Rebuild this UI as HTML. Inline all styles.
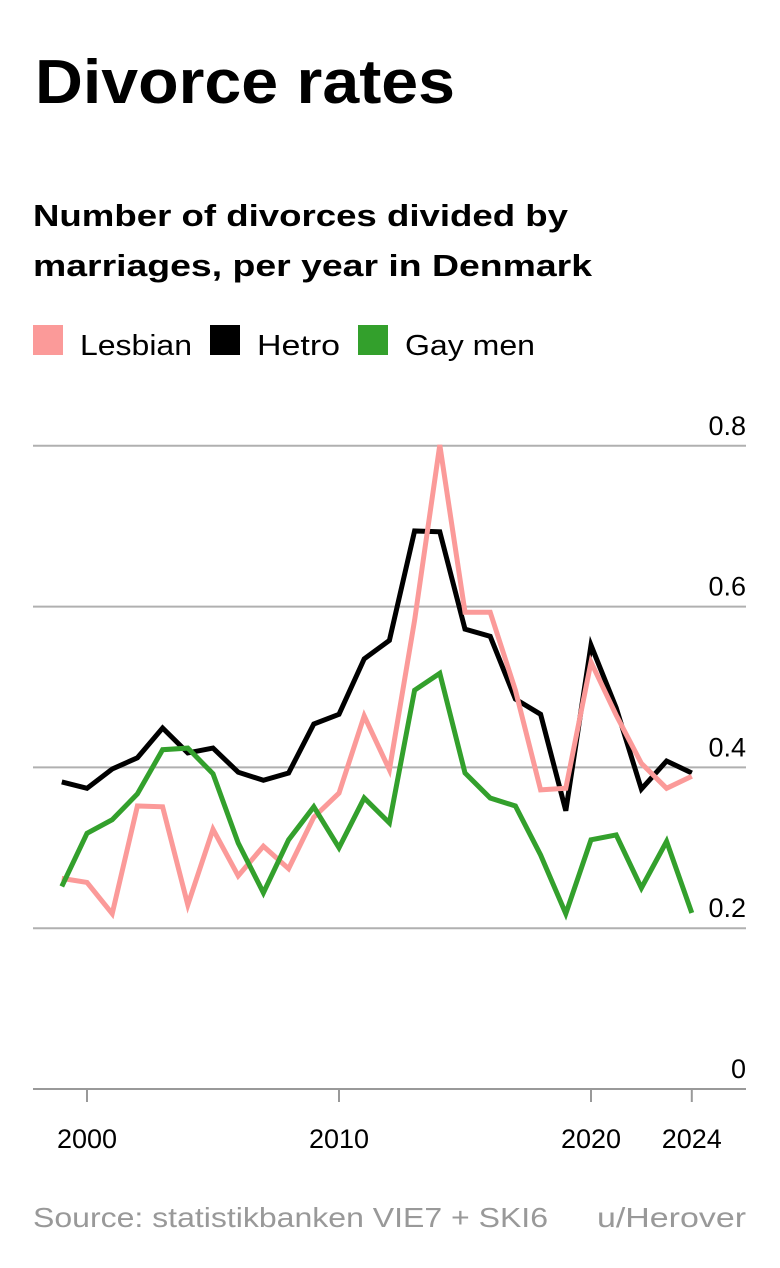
<!DOCTYPE html>
<html><head><meta charset="utf-8"><style>
html,body{margin:0;padding:0;background:#fff;}
svg{display:block;font-family:"Liberation Sans","DejaVu Sans",sans-serif;}
</style></head><body>
<svg id="chart" width="780" height="1268" viewBox="0 0 780 1268">
<text x="35" y="103" font-size="62" font-weight="bold" textLength="420" lengthAdjust="spacingAndGlyphs">Divorce rates</text>
<text x="33" y="226" font-size="31" font-weight="bold" textLength="535" lengthAdjust="spacingAndGlyphs">Number of divorces divided by</text>
<text x="33" y="276" font-size="31" font-weight="bold" textLength="559" lengthAdjust="spacingAndGlyphs">marriages, per year in Denmark</text>
<g>
<g><rect x="33" y="325" width="30" height="30" fill="#fb9a99"/><text x="80" y="355" font-size="29" textLength="112" lengthAdjust="spacingAndGlyphs">Lesbian</text></g>
<g><rect x="210" y="325" width="30" height="30" fill="#000"/><text x="257" y="355" font-size="29" textLength="83" lengthAdjust="spacingAndGlyphs">Hetro</text></g>
<g><rect x="358" y="325" width="30" height="30" fill="#33a02c"/><text x="405" y="355" font-size="29" textLength="130" lengthAdjust="spacingAndGlyphs">Gay men</text></g>
</g>
<g id="grid"></g>
<g id="xaxis"></g>
<g id="series"></g>
<text x="33" y="1227" font-size="28" fill="#999" textLength="515" lengthAdjust="spacingAndGlyphs">Source: statistikbanken VIE7 + SKI6</text>
<text x="597" y="1227" font-size="28" fill="#999" textLength="149" lengthAdjust="spacingAndGlyphs">u/Herover</text>
</svg>
<script>
const years = [1999,2000,2001,2002,2003,2004,2005,2006,2007,2008,2009,2010,2011,2012,2013,2014,2015,2016,2017,2018,2019,2020,2021,2022,2023,2024];
const hetro = [0.382,0.374,0.398,0.412,0.449,0.418,0.424,0.394,0.384,0.393,0.454,0.466,0.535,0.558,0.694,0.693,0.572,0.563,0.485,0.466,0.346,0.552,0.474,0.373,0.408,0.393];
const lesbian = [0.262,0.257,0.218,0.352,0.351,0.229,0.323,0.265,0.302,0.274,0.338,0.368,0.464,0.397,0.583,0.801,0.593,0.593,0.496,0.372,0.374,0.531,0.465,0.405,0.374,0.389];
const gayMen = [0.252,0.318,0.335,0.367,0.422,0.424,0.392,0.306,0.244,0.310,0.351,0.300,0.362,0.331,0.496,0.517,0.393,0.362,0.352,0.291,0.218,0.310,0.316,0.250,0.308,0.219];
const yTicks = [0,0.2,0.4,0.6,0.8];
const yTickLabels = ["0","0.2","0.4","0.6","0.8"];
const xTicks = [2000,2010,2020,2024];

const NS = "http://www.w3.org/2000/svg";
const xs = y => 87 + (y - 2000) * 25.2;
const ys = v => 1089 - v * 804;
function mk(tag, attrs, parent){const e=document.createElementNS(NS,tag);for(const k in attrs)e.setAttribute(k,attrs[k]);parent.appendChild(e);return e;}
const grid=document.getElementById('grid'), xaxis=document.getElementById('xaxis'), series=document.getElementById('series');
yTicks.forEach((t,i)=>{
  if(t>0){const l=mk('line',{x1:33,x2:746,y1:ys(t),y2:ys(t),stroke:'#b0b0b0','stroke-width':2},grid);
  
  }
  const tx=mk('text',{x:746,y:ys(t)-11,'font-size':27,'text-anchor':'end'},grid);
  tx.textContent=yTickLabels[i];
  
  
});
const ax=mk('line',{x1:33,x2:746,y1:ys(0),y2:ys(0),stroke:'#999','stroke-width':2},xaxis);


xTicks.forEach(t=>{
  const tk=mk('line',{x1:xs(t),x2:xs(t),y1:ys(0),y2:ys(0)+13,stroke:'#999','stroke-width':2},xaxis);
  
  
  const tx=mk('text',{x:xs(t),y:1148,'font-size':27,'text-anchor':'middle'},xaxis);
  tx.textContent=String(t);
  
  
});
function line(vals,color,name){
  const d=vals.map((v,i)=>(i?'L':'M')+xs(years[i]).toFixed(1)+' '+ys(v).toFixed(1)).join(' ');
  const p=mk('path',{d:d,fill:'none',stroke:color,'stroke-width':5,'stroke-linejoin':'miter'},series);
  
  
}
line(hetro,'#000','hetro-line');
line(lesbian,'#fb9a99','lesbian-line');
line(gayMen,'#33a02c','gay-men-line');
</script>
</body></html>
